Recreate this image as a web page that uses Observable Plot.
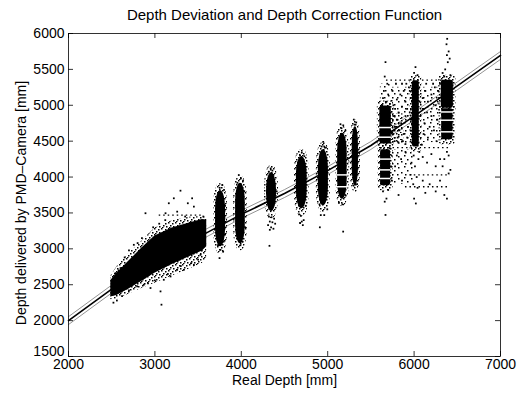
<!DOCTYPE html>
<html><head><meta charset="utf-8">
<script src="https://cdn.jsdelivr.net/npm/d3@7"></script>
<script src="https://cdn.jsdelivr.net/npm/@observablehq/plot@0.6"></script>
<style>body{margin:0;background:#fff}#c{position:relative;width:524px;height:394px}</style>
</head><body><div id="c"></div>
<script>
const titleText = "Depth Deviation and Depth Correction Function";
const xLabel = "Real Depth [mm]";
const yLabel = "Depth delivered by PMD\u2013Camera [mm]";
const xTicks = [2000, 3000, 4000, 5000, 6000, 7000];
const yTicks = [1500, 2000, 2500, 3000, 3500, 4000, 4500, 5000, 5500, 6000];

// correction function (centre) and its band
const fitX = [2000, 2500, 3000, 3500, 4000, 4500, 5000, 5500, 6000, 6500, 7000];
const fitY = [2000, 2440, 2820, 3160, 3480, 3770, 4090, 4440, 4850, 5270, 5694];
const fitBand = 55;

// dense diagonal band at near range (solid core and sparser fringe)
const bandX    = [2490, 2560, 2700, 2850, 3000, 3200, 3400, 3550, 3600];
const bandLo   = [2330, 2350, 2440, 2550, 2660, 2780, 2890, 2970, 3030];
const bandHi   = [2560, 2660, 2830, 3010, 3180, 3290, 3360, 3410, 3400];
const fringeLo = [2290, 2300, 2370, 2450, 2520, 2620, 2720, 2800, 2870];
const fringeHi = [2620, 2750, 2940, 3110, 3290, 3390, 3440, 3450, 3440];

// dense vertical clusters: centre x, half width (mm), core low / high, shape (1 = spindle, 0 = column)
const coreX     = [3760, 3990, 4350, 4700, 4950, 5170, 5320, 5670, 5670, 6020, 6385, 6385];
const coreHW    = [58,   56,   58,   62,   58,   55,   36,   66,   58,   40,   70,   66];
const coreLo    = [3030, 3070, 3520, 3560, 3600, 3690, 3880, 4460, 3880, 4420, 4960, 4520];
const coreHi    = [3810, 3915, 4060, 4280, 4380, 4610, 4700, 4990, 4380, 5340, 5350, 4950];
const coreShape = [1, 1, 1, 1, 1, 1, 1, 0, 0, 0, 0, 0];

// scatter fields between the far clusters (density 1 = medium, 0 = sparse)
const fieldX1 = [5730, 6070, 5720, 5610, 5720];
const fieldX2 = [5990, 6310, 6000, 5730, 5880];
const fieldY1 = [4450, 4480, 3900, 4990, 4460];
const fieldY2 = [5250, 5250, 4380, 5300, 4880];
const fieldDensity = [0, 0, 0, 0, 1];

// white gaps inside clusters
const gapY  = [4030, 3865, 4690, 4555, 4250, 4100, 3980, 4907, 4792, 4630, 3500];
const gapX1 = [5100, 5100, 5600, 5600, 5610, 5610, 5610, 6315, 6315, 6315, 4285];
const gapX2 = [5240, 5240, 5740, 5740, 5730, 5730, 5730, 6460, 6460, 6460, 4415];

// dotted rows of quantised readings
const rowY  = [3470, 4410, 5350, 4030, 3865];
const rowX1 = [3050, 5600, 5680, 5950, 5900];
const rowX2 = [3550, 6430, 6420, 6420, 6400];

// scattered individual readings [real, measured]
const pts = [
 [3296,3810],[3219,3704],[3161,3635],[3381,3635],[3431,3704],[3451,3588],[3123,3496],[3258,3518],[2891,3496],
 [2756,3056],[2700,2980],[2650,2880],[2602,2732],[2544,2662],[2949,2454],[3065,2407],[3076,2222],[3451,2778],
 [3335,2708],[3528,2917],[3258,2708],[3181,2615],[3103,2569],[2871,2500],[2795,2477],[2520,2250],[2560,2280],
 [2980,3300],[3050,3350],[2850,3150],[2800,3080],[3120,3400],[3350,3450],[3500,2850],[3420,2800],[3300,2760],
 [3000,2560],[2920,2520],[2700,2420],[2620,2340],[2580,2700],[3560,3450],[3540,2980],[3150,2650],
 [3748,2871],[3759,2986],[3790,2960],[3730,3050],[3779,3889],[3750,3850],[3800,3820],[3715,3700],[3812,3600],
 [3705,3300],[3812,3200],[3725,3120],[3795,3100],
 [3971,4028],[3995,3980],[4020,3950],[3955,3920],[3990,3050],[4012,3100],[3958,3150],[4045,3300],[3945,3400],[4035,3800],
 [4320,3450],[4350,3440],[4380,3420],[4330,3380],[4360,3370],[4392,3350],[4310,3330],[4345,3300],[4372,3280],
 [4330,3265],[4326,3042],[4300,3900],[4410,3800],[4340,4120],[4360,4090],[4318,4075],
 [4700,4340],[4680,4300],[4730,4290],[4655,4200],[4745,3600],[4690,3460],[4700,3380],[4722,3400],[4680,3360],
 [4712,3330],[4668,3480],
 [4948,4490],[4930,4425],[4960,4425],[4980,4410],[4920,3470],[4960,3470],[4909,3300],[4995,3550],[4905,3620],
 [5148,4736],[5180,4720],[5160,4680],[5205,4650],[5130,3640],[5170,3620],[5179,3240],[5205,3750],[5135,3800],
 [5302,4800],[5330,4760],[5310,4730],[5340,3900],[5300,3880],
 [5669,5601],[5660,5400],[5690,5300],[5650,5200],[5700,5150],[5640,5100],[5680,5050],[5720,5020],[5630,5000],
 [5660,3657],[5680,3700],[5669,3472],[5640,3800],[5700,3820],[5620,4300],[5610,4200],[5730,4150],[5620,4050],
 [5740,3950],[5720,4400],
 [5760,5000],[5780,4950],[5800,5080],[5820,4900],[5840,5150],[5760,4850],[5860,4980],[5880,5200],[5900,5050],
 [5920,4950],[5940,5250],[5960,5100],[5800,4800],[5850,4750],[5900,4850],[5950,4900],[5780,4700],[5830,4650],
 [5880,4600],[5930,4700],[5970,4800],[5760,4600],[5810,4550],[5870,4500],[5920,4550],[5960,4650],[5750,5200],
 [5790,5300],[5860,5300],[5910,5300],[5950,5200],[5980,4750],[5775,4500],[5820,4480],[5900,4460],
 [6016,5532],[6000,5450],[6040,5420],[5985,5300],[6060,5250],[5990,5150],[6065,5050],[5980,4950],[6070,4850],
 [5985,4700],[6060,4600],[6020,3632],[6000,3700],[6040,3850],[5990,3900],[6030,4000],[6010,4150],[6050,4250],
 [5995,4300],[6060,4350],[5970,4200],
 [6100,5100],[6130,5200],[6160,5050],[6200,5150],[6240,5250],[6280,5200],[6100,4950],[6150,4900],[6200,4850],
 [6250,5000],[6290,5100],[6120,4750],[6180,4700],[6230,4650],[6270,4800],[6110,4600],[6160,4550],[6260,4500],
 [6300,5300],[6220,5300],[6140,5300],[6090,4450],
 [5800,4300],[5850,4250],[5900,4350],[6100,4280],[6150,4200],[6200,4320],[6250,4150],[6300,4250],[5780,4150],
 [5860,3950],[6100,3950],[6180,3900],[6300,3950],[5820,3750],[6130,3780],[6250,3800],[6350,3750],[6380,3700],
 [6383,5926],[6375,5850],[6400,5750],[6380,5700],[6412,5650],[6390,5600],[6360,5500],[6330,5450],[6420,5420],
 [6350,5400],[6380,4350],[6400,4300],[6350,4250],[6420,4100],[6330,4150],[6400,4050]
];
const ptX = pts.map(p => p[0]);
const ptY = pts.map(p => p[1]);

const fit = fitX.map((x, i) => ({x, y: fitY[i]}));
const band = bandX.map((x, i) => ({x, lo: bandLo[i], hi: bandHi[i], flo: fringeLo[i], fhi: fringeHi[i]}));
const cores = coreX.map((x, i) => ({x1: x - coreHW[i], x2: x + coreHW[i], y1: coreLo[i], y2: coreHi[i], s: coreShape[i]}));
const spindles = cores.filter(d => d.s === 1), columns = cores.filter(d => d.s === 0);
const fields = fieldX1.map((x1, i) => ({x1, x2: fieldX2[i], y1: fieldY1[i], y2: fieldY2[i], d: fieldDensity[i]}));
const gaps = gapY.map((y, i) => ({y, x1: gapX1[i], x2: gapX2[i]}));
const rows = rowY.map((y, i) => ({y, x1: rowX1[i], x2: rowX2[i]}));
const dots = ptX.map((x, i) => ({x, y: ptY[i]}));

const tk = 5;
const pxPerX = 432 / 5000, pxPerY = 323 / 4500;
const dxT = tk / pxPerX, dyT = tk / pxPerY;
const fmt = d3.format("d");
const FS = 14;

const chart = Plot.plot({
  width: 524, height: 394,
  marginLeft: 68, marginRight: 24, marginTop: 33, marginBottom: 38,
  style: {fontFamily: "'Liberation Sans', Arial, sans-serif", fontSize: FS + "px", color: "#000", background: "#fff"},
  x: {domain: [2000, 7000]},
  y: {domain: [1500, 6000]},
  marks: [
    Plot.line(fit, {x: "x", y: d => d.y + fitBand, stroke: "#777", strokeWidth: 0.8}),
    Plot.line(fit, {x: "x", y: d => d.y - fitBand, stroke: "#777", strokeWidth: 0.8}),
    Plot.line(fit, {x: "x", y: "y", stroke: "#000", strokeWidth: 1.6}),
    Plot.rect(fields, {x1: "x1", x2: "x2", y1: "y1", y2: "y2", fill: d => d.d ? "url(#spMedLight)" : "url(#spSparse)"}),
    Plot.areaY(band, {x: "x", y1: "flo", y2: "fhi", fill: "url(#spMed)"}),
    Plot.areaY(band, {x: "x", y1: "lo", y2: "hi", fill: "#000"}),
    Plot.rect(spindles, {x1: "x1", x2: "x2", y1: "y1", y2: "y2", fill: "url(#spMed)",
      insetLeft: -2, insetRight: -2, insetTop: -7, insetBottom: -7, rx: 6, ry: 22}),
    Plot.rect(spindles, {x1: "x1", x2: "x2", y1: "y1", y2: "y2", fill: "#000", rx: 5, ry: 18}),
    Plot.rect(columns, {x1: "x1", x2: "x2", y1: "y1", y2: "y2", fill: "url(#spMed)",
      insetLeft: -2.5, insetRight: -2.5, insetTop: -5, insetBottom: -5, rx: 3, ry: 4}),
    Plot.rect(columns, {x1: "x1", x2: "x2", y1: "y1", y2: "y2", fill: "#000", rx: 2, ry: 3}),
    Plot.ruleY(gaps, {y: "y", x1: "x1", x2: "x2", stroke: "#fff", strokeWidth: 1.5}),
    Plot.ruleY(rows, {y: "y", x1: "x1", x2: "x2", stroke: "#000", strokeWidth: 1.4, strokeDasharray: "1.5,3"}),
    Plot.dot(dots, {x: "x", y: "y", symbol: "square", r: 1, fill: "#000", stroke: "none"}),
    Plot.frame({stroke: "#000", strokeWidth: 0.8}),
    Plot.ruleX(xTicks, {x: d => d, y1: 1500, y2: 1500 + dyT, stroke: "#000", strokeWidth: 0.8}),
    Plot.ruleX(xTicks, {x: d => d, y1: 6000, y2: 6000 - dyT, stroke: "#000", strokeWidth: 0.8}),
    Plot.ruleY(yTicks, {y: d => d, x1: 2000, x2: 2000 + dxT, stroke: "#000", strokeWidth: 0.8}),
    Plot.ruleY(yTicks, {y: d => d, x1: 7000, x2: 7000 - dxT, stroke: "#000", strokeWidth: 0.8}),
    Plot.axisX(xTicks, {tickSize: 0, tickPadding: 3, tickFormat: fmt, label: null, fontSize: FS}),
    Plot.axisY(yTicks.filter(d => d > 1500), {tickSize: 0, tickPadding: 4, tickFormat: fmt, label: null, fontSize: FS}),
    Plot.axisY([1500], {tickSize: 0, tickPadding: 4, tickFormat: fmt, label: null, fontSize: FS, dy: -5}),
    Plot.text([titleText], {frameAnchor: "top", lineAnchor: "middle", textAnchor: "middle", dy: -18, fontSize: 15}),
    Plot.text([xLabel], {frameAnchor: "bottom", lineAnchor: "middle", textAnchor: "middle", dy: 24, fontSize: FS}),
    Plot.text([yLabel], {frameAnchor: "left", lineAnchor: "middle", textAnchor: "middle", rotate: -90, dx: -47, dy: 8, fontSize: 14})
  ]
});

// speckle patterns imitating point clouds of differing density
const defs = d3.select(chart).insert("defs", ":first-child");
function speckle(id, w, h, spots) {
  const p = defs.append("pattern").attr("id", id).attr("patternUnits", "userSpaceOnUse").attr("width", w).attr("height", h);
  spots.forEach(([x, y]) => p.append("rect").attr("x", x).attr("y", y).attr("width", 1.5).attr("height", 1.5).attr("fill", "#000"));
}
speckle("spMed", 7, 6, [[0, 0], [4, 1], [2, 3], [5, 4], [1, 5]]);
speckle("spMedLight", 9, 7, [[0, 0], [5, 1], [2, 3], [7, 4], [4, 6]]);
speckle("spSparse", 13, 11, [[1, 1], [8, 2], [4, 5], [11, 7], [2, 9], [7, 9]]);

document.getElementById("c").appendChild(chart);
</script>
</body></html>
